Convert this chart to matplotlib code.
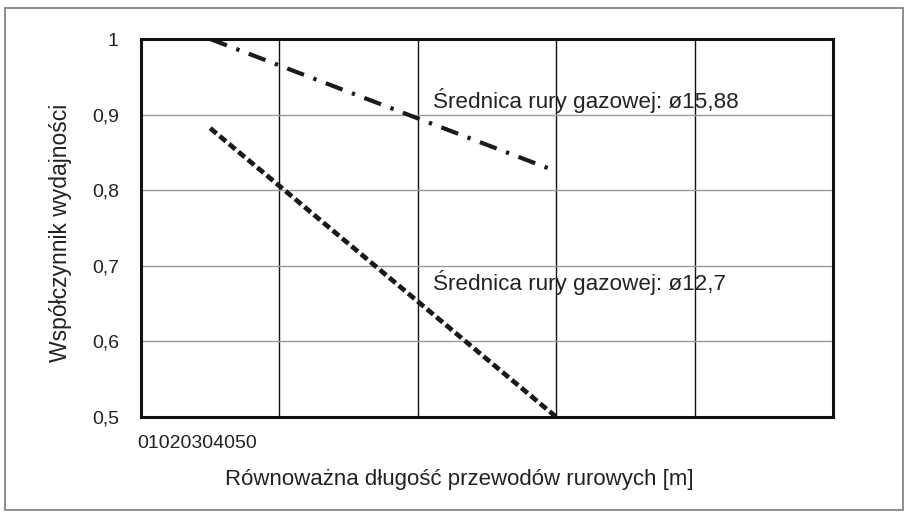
import matplotlib.pyplot as plt
from matplotlib.patches import Rectangle

plt.rcParams['font.family'] = ['Liberation Sans', 'DejaVu Sans']

# data
x_ticks = [0, 10, 20, 30, 40, 50]
y_ticks = [0.5, 0.6, 0.7, 0.8, 0.9, 1.0]
y_labels = ['0,5', '0,6', '0,7', '0,8', '0,9', '1']

length = [5, 30]
eff_1588 = [1.0, 0.825]
eff_127 = [0.882, 0.5]

label_1588 = 'Średnica rury gazowej: ø15,88'
label_127 = 'Średnica rury gazowej: ø12,7'

W, H = 907, 512
fig = plt.figure(figsize=(W / 100, H / 100), dpi=100)
ax = fig.add_axes([141/W, 1 - 417/H, 692/W, 378/H])

# outer gray frame
fig.patches.append(Rectangle((5/W, 2/H), 898/W, 502/H, transform=fig.transFigure,
                             fill=False, edgecolor='#7a7a7a', lw=1.2))

ax.plot(length, eff_1588, color='#1a1a1a', lw=3.0, linestyle=(0, (4.3, 2.4, 0.8, 2.4)),
        dash_capstyle='butt')
ax.plot(length, eff_127, color='#1a1a1a', lw=3.4, linestyle=(0, (1.75, 0.85)),
        dash_capstyle='butt')

ax.set_xlim(0, 50)
ax.set_ylim(0.5, 1.0)
ax.set_xticks(x_ticks)
ax.set_xticklabels([])
ax.set_yticks(y_ticks)
ax.set_yticklabels(y_labels, fontsize=14, color='#222222')
ax.tick_params(length=0, pad=16)

ax.grid(axis='x', color='#111111', lw=1.0)
ax.grid(axis='y', color='#9a9a9a', lw=1.0)
ax.set_axisbelow(True)
for s in ax.spines.values():
    s.set_linewidth(2.2)
    s.set_color('#111111')

# x tick labels squashed together like in the original
fig.text(137/W, 1 - 443/H, ''.join(str(v) for v in x_ticks),
         ha='left', va='center', fontsize=14, color='#222222')

ax.text(21.1, 0.919, label_1588, fontsize=16.2, color='#222222', va='center')
ax.text(21.1, 0.678, label_127, fontsize=16.2, color='#222222', va='center')

fig.text(459/W, 1 - 480/H, 'Równoważna długość przewodów rurowych [m]',
         ha='center', va='center', fontsize=16, color='#222222')
fig.text(61/W, 1 - 233/H, 'Współczynnik wydajności', rotation=90,
         ha='center', va='center', fontsize=16.5, color='#222222')

plt.savefig('out.png', dpi=100)
